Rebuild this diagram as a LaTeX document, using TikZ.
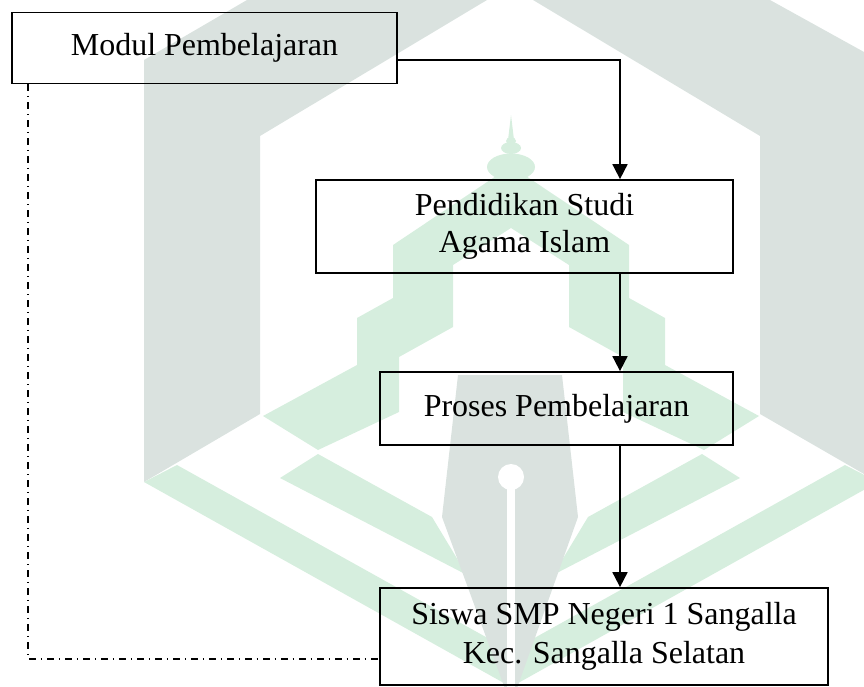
\documentclass[tikz,border=0pt]{standalone}
\usepackage{fontspec}
\setmainfont{Liberation Serif}
\usetikzlibrary{arrows.meta}
\definecolor{wmgray}{RGB}{218,226,223}
\definecolor{wmgreen}{RGB}{214,238,222}

\begin{document}
\begin{tikzpicture}[x=0.02cm,y=-0.02cm,
                    main node/.style={draw,rectangle,line width=1pt,align=center,inner sep=0pt,
                                      font=\fontsize{18.2}{22.5}\selectfont},
                    flow/.style={line width=1pt,-{Triangle[length=0.3cm,width=0.3cm]}},
                    back/.style={line width=1pt,dash pattern=on 0.13cm off 0.1cm on 0.03cm off 0.1cm}]
  \useasboundingbox (0,0) rectangle (864,686);
  %watermark%
  \begin{scope}
    \clip (0,0) rectangle (864,686);
    \fill[wmgray] (144,482) -- (144,60) -- (247,0) -- (487,0) -- (260,136) -- (260,414) -- cycle;
    \fill[wmgray] (533,0) -- (770,0) -- (864,52) -- (864,474) -- (760,414) -- (760,136) -- cycle;
    \fill[wmgreen] (511,166) -- (393,245) -- (393,298) -- (357,318) -- (357,365) -- (263,416)
      -- (318,450) -- (399,412) -- (399,357) -- (453,327) -- (453,265) -- (511,228)
      -- (569,265) -- (569,327) -- (623,357) -- (623,412) -- (704,450) -- (759,416)
      -- (665,365) -- (665,318) -- (629,298) -- (629,245) -- cycle;
    \fill[wmgreen] (144,482) -- (177,465) -- (511,651) -- (845,465) -- (878,482) -- (511,687) -- cycle;
    \fill[wmgreen] (280,478) -- (318,454) -- (432,517) -- (467,575) -- cycle;
    \fill[wmgreen] (740,478) -- (702,454) -- (588,517) -- (553,575) -- cycle;
    \fill[wmgray] (458,375) -- (562,375) -- (578,517) -- (511,705) -- (442,517) -- cycle;
    \fill[white] (511,477) circle (0.26cm);
    \fill[white] (507,477) rectangle (515,700);
    \fill[wmgreen] (511,167) ellipse [x radius=0.48cm,y radius=0.27cm];
    \fill[wmgreen] (511,148) ellipse [x radius=0.2cm,y radius=0.12cm];
    \fill[wmgreen] (511,141) ellipse [x radius=0.1cm,y radius=0.08cm];
    \fill[wmgreen] (508,140) -- (511,115) -- (514,140) -- cycle;
  \end{scope}

  %flow%
  \node[main node,minimum width=7.7cm,minimum height=1.42cm] (1) at (204.5,48) {Modul Pembelajaran};
  \node[main node,minimum width=8.34cm,minimum height=1.86cm] (2) at (524.5,226.5) {\raisebox{-0.1cm}{\begin{tabular}{@{}c@{}}Pendidikan Studi\\[-0.05cm]Agama Islam\end{tabular}}};
  \node[main node,minimum width=7.06cm,minimum height=1.46cm] (3) at (556.5,408.5) {Proses Pembelajaran};
  \node[main node,minimum width=8.96cm,minimum height=1.94cm] (4) at (604,636.5) {Siswa SMP Negeri 1 Sangalla\\Kec. Sangalla Selatan};

  \coordinate (c1) at (620,60);
  \coordinate (c2) at (28,659);
  \draw[flow] (1.east |- c1) -- (c1) -- (2.north -| c1);
  \draw[flow] (2.south -| c1) -- (3.north -| c1);
  \draw[flow] (3.south -| c1) -- (4.north -| c1);
  \draw[back] (1.south -| c2) -- (c2) -- (4.west |- c2);
\end{tikzpicture}
\end{document}
